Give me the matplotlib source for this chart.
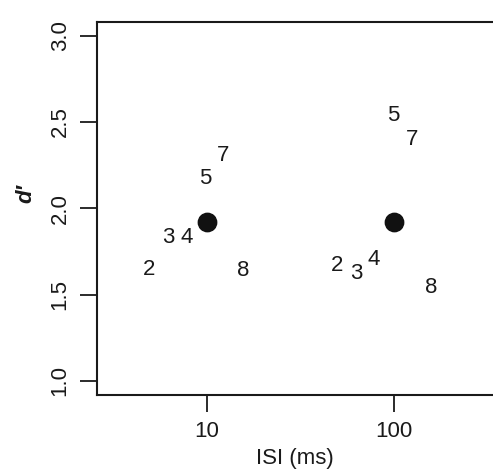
import matplotlib
matplotlib.use("Agg")
import matplotlib.pyplot as plt

plt.rcParams['font.family'] = ['Liberation Sans', 'DejaVu Sans']

# mean d' at each ISI
mean_isi = [10, 100]
mean_d = [1.92, 1.92]

# per-subject labels and positions
short_lbl = ["2", "3", "4", "5", "7", "8"]
short_isi = [4.9, 6.2, 7.8, 9.75, 12.2, 15.6]
short_d = [1.644, 1.829, 1.829, 2.173, 2.306, 1.638]

long_lbl = ["2", "3", "4", "5", "7", "8"]
long_isi = [49.5, 62.7, 78.2, 98.8, 124.8, 157.8]
long_d = [1.667, 1.621, 1.702, 2.540, 2.396, 1.540]

fig = plt.figure(figsize=(4.93, 4.69), dpi=100)
ax = fig.add_axes([0.1968, 0.1584, 0.8256, 0.795])

ax.set_xscale("log")
ax.set_xlim(10 ** 0.412, 10 ** 2.588)
ax.set_ylim(0.92, 3.08)

ax.scatter(mean_isi, mean_d, s=175, color="#111111", zorder=3)
for lbl, x, y in zip(short_lbl, short_isi, short_d):
    ax.text(x, y, lbl, ha="center", va="center", fontsize=16, color="#1a1a1a")
for lbl, x, y in zip(long_lbl, long_isi, long_d):
    ax.text(x, y, lbl, ha="center", va="center", fontsize=16, color="#1a1a1a")

ax.set_xticks([10, 100])
ax.set_xticklabels(["10", "100"])
ax.xaxis.set_minor_locator(matplotlib.ticker.NullLocator())
ax.set_yticks([1.0, 1.5, 2.0, 2.5, 3.0])
ax.set_yticklabels(["1.0", "1.5", "2.0", "2.5", "3.0"], rotation=90, va="center")

ax.tick_params(axis="both", direction="out", length=12, width=1.3,
               labelsize=16, colors="#1a1a1a", pad=7)
for side in ["left", "bottom", "top"]:
    ax.spines[side].set_linewidth(1.5)
    ax.spines[side].set_color("#1a1a1a")
ax.spines["right"].set_visible(False)

ax.set_xlabel("ISI (ms)", fontsize=16, color="#1a1a1a")
ax.xaxis.set_label_coords(0.485, -0.142)
ax.set_ylabel("d′", fontsize=16, fontweight="bold", style="italic", color="#1a1a1a")
ax.yaxis.set_label_coords(-0.15, 0.54)

fig.savefig("out.png", dpi=100)
